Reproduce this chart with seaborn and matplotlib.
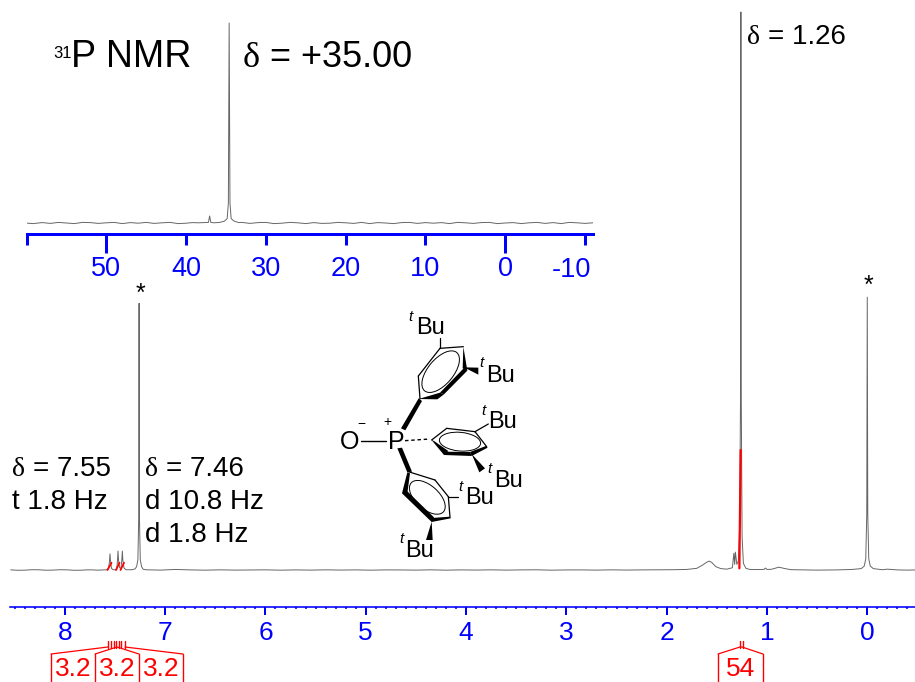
import matplotlib
matplotlib.use("Agg")
from matplotlib import pyplot as plt
from matplotlib.patches import Ellipse, Polygon
from matplotlib.ticker import FixedLocator, FixedFormatter, NullFormatter
import seaborn as sns

W, H = 915, 682
BLUE = "#0000ff"
RED = "#ff0000"
GREY = "#666666"

# 1H spectrum (ppm, % of the tallest peak)
h_ppm = [8.54, 8.47, 8.40, 8.33, 8.26, 8.19, 8.12, 8.05, 7.98, 7.91, 7.84, 7.78, 7.72, 7.67, 7.62,
         7.58, 7.565, 7.555, 7.55, 7.545, 7.535, 7.52,
         7.49, 7.482, 7.475, 7.47, 7.465, 7.455, 7.448, 7.44, 7.432, 7.427, 7.422, 7.41, 7.39,
         7.33, 7.30, 7.285, 7.272, 7.264, 7.26, 7.256, 7.248, 7.235, 7.22, 7.19,
         7.05, 6.90, 6.75, 6.60, 6.45, 6.30, 6.15, 6.00, 5.85, 5.70, 5.55, 5.40, 5.25, 5.10,
         4.95, 4.80, 4.65, 4.50, 4.35, 4.20, 4.05, 3.90, 3.75, 3.60, 3.45, 3.30, 3.15, 3.00,
         2.85, 2.70, 2.55, 2.40, 2.25, 2.10, 1.95, 1.80,
         1.70, 1.64, 1.60, 1.575, 1.55, 1.51, 1.46, 1.40,
         1.345, 1.33, 1.322, 1.315, 1.30, 1.285, 1.272, 1.264, 1.26, 1.256, 1.248, 1.235, 1.21, 1.17,
         1.10, 1.03, 1.015, 1.00, 0.96, 0.92, 0.885, 0.86, 0.82, 0.76, 0.66, 0.50, 0.30, 0.15,
         0.06, 0.03, 0.015, 0.005, 0.0, -0.005, -0.015, -0.03, -0.06,
         -0.15, -0.20, -0.30, -0.40, -0.476]
h_int = [0.02, -0.05, -0.03, 0.05, 0.04, -0.04, -0.02, 0.05, 0.03, -0.05, -0.04, 0.03, 0.02, -0.03, 0.01,
         0.05, 0.30, 1.60, 2.90, 1.60, 0.30, 0.05,
         0.05, 0.35, 1.80, 3.40, 1.80, 0.45, 0.30, 0.45, 1.80, 3.40, 1.80, 0.35, 0.05,
         0.05, 0.20, 0.60, 1.80, 9.00, 47.80, 9.00, 1.80, 0.60, 0.15, 0.04,
         -0.02, 0.10, 0.02, -0.03, 0.03, -0.02, 0.01, 0.03, -0.03, 0.02, -0.02, 0.03, -0.01, 0.02,
         -0.03, 0.02, 0.01, -0.02, 0.03, -0.03, 0.02, -0.01, 0.03, -0.02, 0.02, 0.04, -0.03, 0.01,
         0.02, -0.02, 0.03, -0.01, 0.02, 0.03, 0.05, 0.10,
         0.30, 0.90, 1.40, 1.60, 1.35, 0.60, 0.25, 0.15,
         0.40, 3.00, 1.00, 3.20, 1.00, 1.60, 8.00, 30.00, 100.0, 30.00, 6.00, 1.20, 0.30, 0.10,
         0.08, 0.10, 0.35, 0.10, 0.12, 0.30, 0.50, 0.42, 0.25, 0.06, 0.03, -0.02, 0.02, 0.10,
         0.25, 0.70, 2.00, 10.00, 48.90, 10.00, 2.00, 0.70, 0.25,
         0.05, 0.15, 0.02, -0.02, 0.01]

# 31P spectrum (inset)
p_ppm = [60.5, 59.2, 58, 57, 56, 55, 54, 53, 52, 51, 50, 49, 48, 47, 46, 45, 44, 43, 42, 41, 40, 39.2, 38.5,
         37.2, 37.05, 36.9, 36.5, 35.8, 35.2, 34.85, 34.7, 34.6, 34.5, 34.35, 34.0, 33.4,
         33, 32, 31, 30, 29, 28, 27, 26, 25, 24, 23, 22, 21, 20, 19, 18, 17, 16, 15, 14, 13, 12, 11, 10,
         9, 8, 7, 6, 5, 4, 3, 2, 1, 0, -1, -2, -3, -4, -5, -6, -7, -8, -9, -10, -11]
p_int = [0.1, -0.3, 0.2, -0.2, 0.3, 0.0, -0.3, 0.3, 0.2, -0.2, 0.1, 0.3, -0.3, 0.2, -0.1, 0.3, -0.2, 0.1, 0.3, -0.3, -0.1, 0.2, 0.1,
         0.3, 3.5, 0.3, 0.1, 0.3, 0.9, 2.2, 10.0, 100.0, 10.0, 2.2, 1.0, 0.2,
         0.3, -0.2, 0.2, 0.3, -0.3, -0.1, 0.3, 0.1, -0.3, 0.2, -0.2, -0.1, 0.3, 0.1, -0.2, 0.3, -0.3, 0.2, 0.0, -0.3, 0.2, 0.3, -0.2, 0.2,
         -0.1, 0.2, -0.3, 0.3, 0.1, -0.2, 0.2, 0.3, -0.3, 0.0, 0.2, -0.3, 0.1, 0.3, -0.2, 0.2, -0.3, 0.3, 0.1, -0.2, 0.1]

# integral traces
int_ppm_55 = [7.575, 7.535]
int_val_55 = [0.0, 1.30]
int_ppm_47 = [7.49, 7.455]
int_val_47 = [0.0, 1.30]
int_ppm_43 = [7.445, 7.41]
int_val_43 = [0.0, 1.30]
int_ppm_126 = [1.275, 1.262]
int_val_126 = [0.30, 21.50]

h_major = [8, 7, 6, 5, 4, 3, 2, 1, 0]
h_minor = [8.5, 8.4, 8.3, 8.2, 8.1, 7.9, 7.8, 7.7, 7.6, 7.5, 7.4, 7.3, 7.2, 7.1,
           6.9, 6.8, 6.7, 6.6, 6.5, 6.4, 6.3, 6.2, 6.1, 5.9, 5.8, 5.7, 5.6, 5.5, 5.4, 5.3, 5.2, 5.1,
           4.9, 4.8, 4.7, 4.6, 4.5, 4.4, 4.3, 4.2, 4.1, 3.9, 3.8, 3.7, 3.6, 3.5, 3.4, 3.3, 3.2, 3.1,
           2.9, 2.8, 2.7, 2.6, 2.5, 2.4, 2.3, 2.2, 2.1, 1.9, 1.8, 1.7, 1.6, 1.5, 1.4, 1.3, 1.2, 1.1,
           0.9, 0.8, 0.7, 0.6, 0.5, 0.4, 0.3, 0.2, 0.1, -0.1, -0.2, -0.3, -0.4]
p_major = [50, 0]
p_minor = [60, 40, 30, 20, 10, -10]
p_minor_labels = ["", "40", "30", "20", "10", ""]

sns.set_theme(style="white")
plt.rcParams["font.family"] = ["Liberation Sans", "DejaVu Sans"]


def add_axes_px(x0, y0, x1, y1):
    # pixel box with y measured from the top of the picture
    return fig.add_axes([x0 / W, 1 - y1 / H, (x1 - x0) / W, (y1 - y0) / H], facecolor="none")


def pt(px):
    return px * 0.72


fig = plt.figure(figsize=(W / 100, H / 100), dpi=100, facecolor="white")

# main 1H axes
ax = add_axes_px(10, 0, 915, 607)
sns.lineplot(x=h_ppm, y=h_int, sort=False, estimator=None, errorbar=None, color=GREY, linewidth=0.7, ax=ax)
for xs, ys in [(int_ppm_55, int_val_55), (int_ppm_47, int_val_47), (int_ppm_43, int_val_43)]:
    sns.lineplot(x=xs, y=ys, sort=False, estimator=None, errorbar=None, color=RED, linewidth=1.3, ax=ax)
sns.lineplot(x=int_ppm_126, y=int_val_126, sort=False, estimator=None, errorbar=None, color=RED, linewidth=1.6, ax=ax)
ax.set_xlim(8.547, -0.476)
ax.set_ylim(-6.63, 102.15)
sns.despine(ax=ax, left=True, top=True, right=True)
ax.spines["bottom"].set_color(BLUE)
ax.spines["bottom"].set_linewidth(pt(1.6))
ax.xaxis.set_major_locator(FixedLocator(h_major))
ax.xaxis.set_minor_locator(FixedLocator(h_minor))
ax.xaxis.set_minor_formatter(NullFormatter())
ax.tick_params(axis="x", which="major", direction="out", bottom=True, length=pt(7.5), width=pt(2),
               color=BLUE, labelcolor=BLUE, labelsize=19, pad=pt(6))
ax.tick_params(axis="x", which="minor", direction="out", bottom=True, length=pt(2.5), width=pt(1.6), color=BLUE)
ax.set_yticks([])
ax.set_xlabel("")
ax.set_ylabel("")

# inset 31P axes
ins = add_axes_px(26.5, 20, 593, 234)
sns.lineplot(x=p_ppm, y=p_int, sort=False, estimator=None, errorbar=None, color=GREY, linewidth=0.7, ax=ins)
ins.set_xlim(60.0, -11.0)
ins.set_ylim(-5.5, 101.5)
sns.despine(ax=ins, left=True, top=True, right=True)
ins.spines["bottom"].set_color(BLUE)
ins.spines["bottom"].set_linewidth(pt(3))
ins.xaxis.set_major_locator(FixedLocator(p_major))
ins.xaxis.set_minor_locator(FixedLocator(p_minor))
ins.xaxis.set_minor_formatter(FixedFormatter(p_minor_labels))
ins.tick_params(axis="x", which="major", direction="out", bottom=True, length=pt(19), width=pt(3),
                color=BLUE, labelcolor=BLUE, labelsize=19.5, pad=pt(3))
ins.tick_params(axis="x", which="minor", direction="out", bottom=True, length=pt(11), width=pt(3),
                color=BLUE, labelcolor=BLUE, labelsize=19.5, pad=pt(11))
ins.set_yticks([])
ins.set_xlabel("")
ins.set_ylabel("")

# overlay in picture pixels for the annotations and the structure
top = add_axes_px(0, 0, W, H)
top.set_xlim(0, W)
top.set_ylim(H, 0)
top.axis("off")


def put(x, y, s, size, color="black", ha="left", **kw):
    top.text(x, y, s, fontsize=size, color=color, ha=ha, va="baseline", **kw)


def delta(x, y, rest, size):
    # the delta is a serif glyph in the original
    top.text(x, y, "δ", fontsize=size, family="Liberation Serif", va="baseline", color="black")
    top.text(x + size * 1.05, y, rest, fontsize=size, va="baseline", color="black")


put(571.5, 277, "-10", 19.5, color=BLUE, ha="center")

put(53, 58, "31", 12)
put(71, 67, "P NMR", 27)
delta(243, 67, "= +35.00", 26)
delta(747, 44, "= 1.26", 20)
delta(12, 476, "= 7.55", 20)
put(12, 509, "t 1.8 Hz", 20)
delta(145, 476, "= 7.46", 20)
put(145, 509, "d 10.8 Hz", 20)
put(145, 542, "d 1.8 Hz", 20)
put(140, 301, "*", 18, ha="center")
put(868, 293, "*", 18, ha="center")

# integral brackets
top.plot([51, 108], [654, 647], color=RED, lw=0.9)
top.plot([95, 117, 139], [654, 647, 654], color=RED, lw=0.9)
top.plot([125, 183], [647, 654], color=RED, lw=0.9)
top.plot([718, 740, 742, 763], [654, 647, 647, 654], color=RED, lw=0.9)
for x in [51, 95, 139, 183, 718, 763]:
    top.plot([x, x], [654, 682], color=RED, lw=1.0)
for x in [108, 110.5, 113.5, 116, 118.5, 121, 124.5, 740, 742.5]:
    top.plot([x, x], [641, 648], color=RED, lw=1.0)
for x, s in [(73, "3.2"), (117, "3.2"), (161, "3.2"), (741, "54")]:
    put(x, 676, s, 19, color=RED, ha="center")


# structure, positions taken in a 3x crop of the region starting at (320, 300)
def z(x, y):
    return 320 + x / 3, 300 + y / 3


def bond(a, b, lw=0.9, **kw):
    pa, pb = z(*a), z(*b)
    top.plot([pa[0], pb[0]], [pa[1], pb[1]], color="black", lw=lw, solid_capstyle="round", **kw)


def wedge(pts):
    top.add_patch(Polygon([z(*p) for p in pts], closed=True, color="black", lw=0))


def ring(cx, cy, rx, ry, angle):
    top.add_patch(Ellipse(z(cx, cy), rx * 2 / 3, ry * 2 / 3, angle=angle, fill=False, ec="black", lw=0.7))


def tbu(tx, ty, bx, by):
    tp, bp = z(tx, ty), z(bx, by)
    top.text(tp[0], tp[1], "t", fontsize=11, style="italic", ha="center", va="center", color="black")
    top.text(bp[0], bp[1], "Bu", fontsize=17, ha="center", va="center", color="black")


px_o, px_p = z(88, 425), z(228, 425)
top.text(px_o[0], px_o[1], "O", fontsize=18, ha="center", va="center", color="black")
top.text(px_p[0], px_p[1], "P", fontsize=18, ha="center", va="center", color="black")
top.text(*z(125, 372), "−", fontsize=10, ha="center", va="center", color="black")
top.text(*z(203, 365), "+", fontsize=10, ha="center", va="center", color="black")
bond((122, 423), (198, 423), lw=1.0)
bond((255, 422), (330, 417), lw=1.0, linestyle=(0, (2.5, 2)))

# top ring
wedge([(243, 385), (256, 391), (306, 303), (296, 295)])
bond((300, 297), (295, 228))
bond((295, 228), (360, 145))
bond((360, 145), (430, 140))
bond((360, 145), (360, 115))
wedge([(296, 297), (352, 298), (372, 283), (360, 278)])
wedge([(360, 278), (372, 283), (442, 212), (432, 204)])
wedge([(430, 140), (428, 205), (442, 212)])
wedge([(432, 202), (475, 203), (475, 224)])
ring(362, 215, 75, 38, -50)
tbu(270, 50, 332, 85)
tbu(484, 190, 542, 228)

# middle ring
bond((335, 420), (380, 385))
bond((380, 385), (465, 395))
bond((465, 395), (500, 440))
bond((465, 395), (505, 372))
wedge([(333, 418), (372, 465), (385, 453), (345, 425)])
wedge([(372, 455), (372, 465), (455, 468), (450, 456)])
wedge([(450, 456), (455, 468), (503, 443), (498, 438)])
wedge([(455, 462), (478, 517), (495, 505)])
ring(420, 425, 62, 28, 5)
tbu(490, 332, 547, 365)
tbu(508, 508, 567, 543)

# bottom ring
wedge([(232, 445), (246, 443), (276, 515), (262, 517)])
bond((265, 515), (345, 540))
bond((345, 540), (385, 590))
bond((385, 590), (390, 652))
bond((385, 590), (415, 590))
wedge([(262, 517), (246, 580), (262, 580), (270, 520)])
wedge([(246, 580), (262, 574), (342, 652), (335, 666)])
wedge([(335, 654), (335, 666), (392, 655), (390, 650)])
wedge([(335, 665), (318, 720), (338, 720)])
ring(322, 592, 65, 35, 42)
tbu(420, 562, 478, 595)
tbu(243, 716, 298, 752)

fig.savefig("out.png", dpi=100)
